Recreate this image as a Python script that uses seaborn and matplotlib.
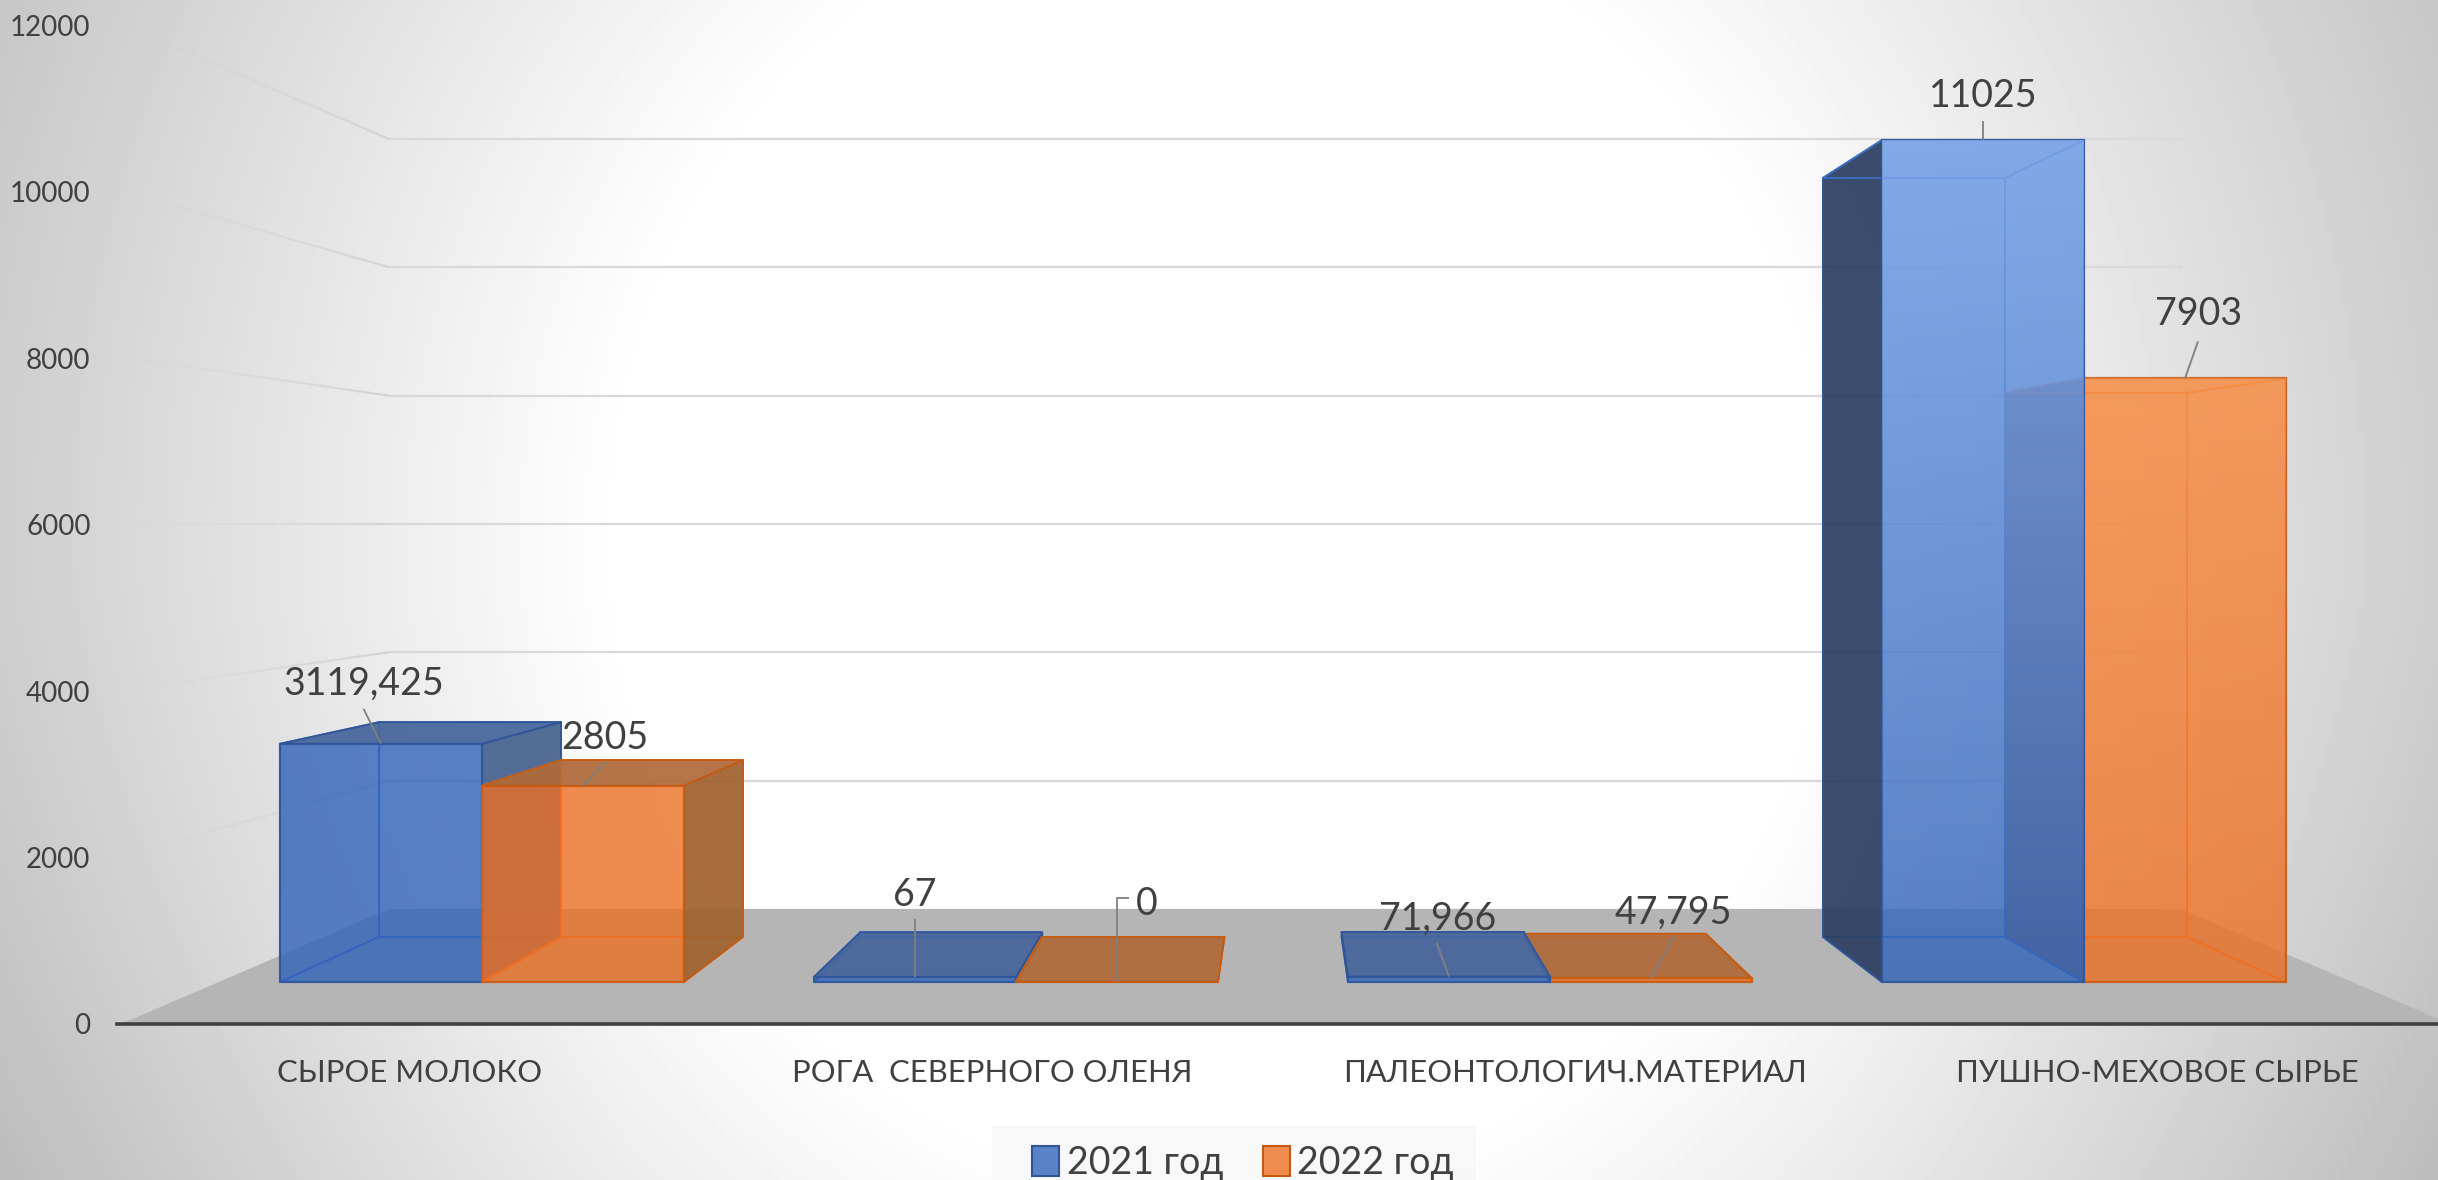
import numpy as np
import pandas as pd
import matplotlib
matplotlib.use("Agg")
import matplotlib.pyplot as plt
from matplotlib.patches import Polygon, Patch, Rectangle
from matplotlib.collections import LineCollection
import seaborn as sns

# ---------- data ----------
categories = ["СЫРОЕ МОЛОКО", "РОГА  СЕВЕРНОГО ОЛЕНЯ", "ПАЛЕОНТОЛОГИЧ.МАТЕРИАЛ", "ПУШНО-МЕХОВОЕ СЫРЬЕ"]
years = ["2021 год", "2022 год"]
values_2021 = [3119.425, 67, 71.966, 11025]
# the picture's first orange bar is drawn lower than its printed label "2805"
values_2022 = [2570, 0, 47.795, 7903]
labels_2021 = ["3119,425", "67", "71,966", "11025"]
labels_2022 = ["2805", "0", "47,795", "7903"]
y_ticks = [0, 2000, 4000, 6000, 8000, 10000, 12000]

# ---------- style / layout ----------
W, H = 2438, 1180
BLUE, ORANGE = "#3163ba", "#ec6f24"
TXT = "#404040"
sns.set_theme(style="white")
plt.rcParams["font.family"] = ["Lato", "Open Sans", "DejaVu Sans"]

PX_X0, PX_DX = 482.0, 534.0      # bar plane: category 0 centre and spacing, pixels
PX_Y0, PX_DY = 982.0, 842.0 / 11025  # bar plane: baseline, pixels per unit
VX, VY = 1.5, 5984.0             # vanishing point in bar-plane data units
BAR_DEPTH, WALL_DEPTH, FLOOR_FRONT = 0.9014, 0.84, 1.092
ROOM_L, ROOM_R = -0.493, 3.502   # room side walls in bar-plane units


def proj(x, v, s):
    return (VX + s * (x - VX), VY + s * (v - VY))


fig = plt.figure(figsize=(W / 100, H / 100), dpi=100)

# background gradient
bg = fig.add_axes([0, 0, 1, 1], zorder=0)
yy, xx = np.mgrid[0:H:295j, 0:W:610j]
dx = np.abs(xx - W / 2)
d = np.hypot(dx, 0.93 * (yy - 540))
shade = 1 - 0.19 * np.clip((d - 600) / 619, 0, 1.2)
shade -= 0.03 * np.clip((yy - 590) / 590, 0, 1) * np.clip((dx - 600) / 619, 0, 1)
bg.imshow(shade, cmap="gray", vmin=0, vmax=1, aspect="auto", extent=(0, W, H, 0))
bg.axis("off")

# bar plane axes
ax = fig.add_axes([0, 0, 1, 1], zorder=1)
ax.patch.set_alpha(0)
df = pd.DataFrame({
    "category": categories * 2,
    "year": [years[0]] * 4 + [years[1]] * 4,
    "value": values_2021 + values_2022,
})
sns.barplot(data=df, x="category", y="value", hue="year", order=categories, hue_order=years,
            palette=[BLUE, ORANGE], width=2 * 202 / 534, gap=0, saturation=1, alpha=0.8, legend=False, ax=ax)
xlim = (-PX_X0 / PX_DX, (W - PX_X0) / PX_DX)
ylim = ((PX_Y0 - H) / PX_DY, PX_Y0 / PX_DY)
ax.axis("off")

# floor
floor = [proj(ROOM_L, 0, FLOOR_FRONT), proj(ROOM_R, 0, FLOOR_FRONT),
         proj(ROOM_R, 0, WALL_DEPTH), proj(ROOM_L, 0, WALL_DEPTH)]
ax.add_patch(Polygon(floor, closed=True, fc="#b5b5b5", ec="none", zorder=2))

# back wall and left wall grid lines
for v in y_ticks[1:]:
    a = proj(ROOM_L, v, WALL_DEPTH)
    b_ = proj(ROOM_R, v, WALL_DEPTH)
    ax.plot([a[0], b_[0]], [a[1], b_[1]], color="#d9d9d9", lw=1.6, zorder=1.5)
    s_vals = np.linspace(WALL_DEPTH, FLOOR_FRONT, 31)
    pts = np.array([proj(ROOM_L, v, s) for s in s_vals])
    segs = np.stack([pts[:-1], pts[1:]], axis=1)
    cols = [(0.83, 0.83, 0.83, al) for al in np.linspace(1, 0, 30)]
    ax.add_collection(LineCollection(segs, colors=cols, linewidths=1.6, zorder=1.5))

# prisms
styles = {
    0: dict(edge="#2f5597", inner="#3f6fc4", top="#46659c", right="#46628f", left="#2c3f62", glow=(160, 198, 255)),
    1: dict(edge="#c55a11", inner="#ef7d2c", top="#b06a3a", right="#a0622f", left="#8f5f3e", glow=(255, 180, 117)),
}
bars = ax.containers
for h in range(2):
    st = styles[h]
    for i, bar in enumerate(bars[h]):
        base = (10 + 20 * i) + (0 if (i <= 1) == (h == 0) else 5)
        x0, x1 = bar.get_x(), bar.get_x() + bar.get_width()
        v = bar.get_height()
        f = lambda x, val: proj(x, val, 1)
        b = lambda x, val: proj(x, val, BAR_DEPTH)
        faces = {
            "right": [f(x1, 0), f(x1, v), b(x1, v), b(x1, 0)],
            "left": [f(x0, 0), f(x0, v), b(x0, v), b(x0, 0)],
            "top": [f(x0, v), f(x1, v), b(x1, v), b(x0, v)],
            "bottom": [f(x0, 0), f(x1, 0), b(x1, 0), b(x0, 0)],
            "back": [b(x0, 0), b(x1, 0), b(x1, v), b(x0, v)],
        }
        vis = {"right": x1 < VX, "left": x0 > VX, "top": v < VY}
        for name in ["back", "bottom"]:
            ax.add_patch(Polygon(faces[name], closed=True, fc="none", ec=st["inner"], lw=1.3, zorder=base))
        for name in ["left", "right", "top"]:
            if vis[name]:
                ax.add_patch(Polygon(faces[name], closed=True, fc=st[name], ec=st["edge"], lw=1.3, alpha=0.93,
                                     zorder=base + (1 if name == "top" else 0.5)))
            else:
                ax.add_patch(Polygon(faces[name], closed=True, fc="none", ec=st["inner"], lw=1.3, zorder=base + 0.5))
        bar.set_zorder(base + 2)
        bar.set_edgecolor(st["edge"])
        bar.set_linewidth(1.6)
        if v > 5000:
            glow = np.zeros((200, 2, 4))
            glow[..., :3] = np.array(st["glow"]) / 255
            glow[..., 3] = np.linspace(0.6, 0, 200)[:, None]
            # top row of the gradient sits at the level of the tallest bar
            im = ax.imshow(glow, extent=(x0, x1, 0, max(values_2021)), origin="upper", aspect="auto", zorder=base + 3)
            im.set_clip_path(Rectangle((x0, 0), x1 - x0, v, transform=ax.transData))

# data labels: (text offset, leader start offset) in pixels from the top centre of each bar
label_off = [
    [((-17.5, 60), [(-17.5, 35)]), ((0, 82), [(0, 58)]), ((-11.5, 58), [(-12.5, 34)]), ((0, 44), [(0, 19)])],
    [((21.5, 48), [(22.5, 23)]), ((30, 78), [(0, 84), (12, 84)]), ((22, 66), [(23, 42)]), ((14, 64), [(13, 37)])],
]
all_labels = [labels_2021, labels_2022]
for h in range(2):
    for i, bar in enumerate(bars[h]):
        ax_x = bar.get_x() + bar.get_width() / 2
        ax_v = bar.get_height()
        (tx, ty), leader = label_off[h][i]
        path = [(0, 0)] + leader
        lx = [ax_x + p[0] / PX_DX for p in path]
        lv = [ax_v + p[1] / PX_DY for p in path]
        ax.plot(lx, lv, color="#7f7f7f", lw=1.3, zorder=200, solid_capstyle="butt")
        ax.text(ax_x + tx / PX_DX, ax_v + ty / PX_DY, all_labels[h][i], ha="center", va="center",
                fontsize=27, color=TXT, zorder=201)

ax.set_xlim(*xlim)
ax.set_ylim(*ylim)

# front plane axes: value scale, category labels, legend
FL, FB, FT = 117.0, 1024.0, 25.0
front = fig.add_axes([FL / W, (H - FB) / H, (W - FL) / W, (FB - FT) / H], zorder=2)
front.patch.set_alpha(0)
px_c0, px_dc = 410.0, 582.5
front.set_xlim((FL - px_c0) / px_dc, (W - px_c0) / px_dc)
front.set_ylim(0, 12000)
front.set_xticks(range(len(categories)), categories)
front.set_yticks(y_ticks, [str(t) for t in y_ticks])
front.tick_params(axis="both", length=0, colors=TXT)
front.tick_params(axis="y", labelsize=20, pad=19)
front.tick_params(axis="x", labelsize=22.3, pad=25)
for s in ["top", "left", "right"]:
    front.spines[s].set_visible(False)
front.spines["bottom"].set_color("#404040")
front.spines["bottom"].set_linewidth(2.6)

# legend with a pale panel behind it
fig.add_artist(Rectangle((992 / W, 0), 484 / W, 54 / H, transform=fig.transFigure,
                         fc="#f4f4f4", ec="none", alpha=0.55, zorder=1.5))
handles = [Patch(fc="#5a82c8", ec=styles[0]["edge"], lw=1.5, label=years[0]),
           Patch(fc="#f08c50", ec=styles[1]["edge"], lw=1.5, label=years[1])]
leg = front.legend(handles=handles, loc="lower center", bbox_to_anchor=(1243 / W, -0.012), bbox_transform=fig.transFigure,
                   ncol=2, fontsize=27, frameon=False, handlelength=0.72, handleheight=0.85, handletextpad=0.2,
                   columnspacing=1.06, borderpad=0.35, borderaxespad=0, labelcolor=TXT)

fig.savefig("out.png", dpi=100)
